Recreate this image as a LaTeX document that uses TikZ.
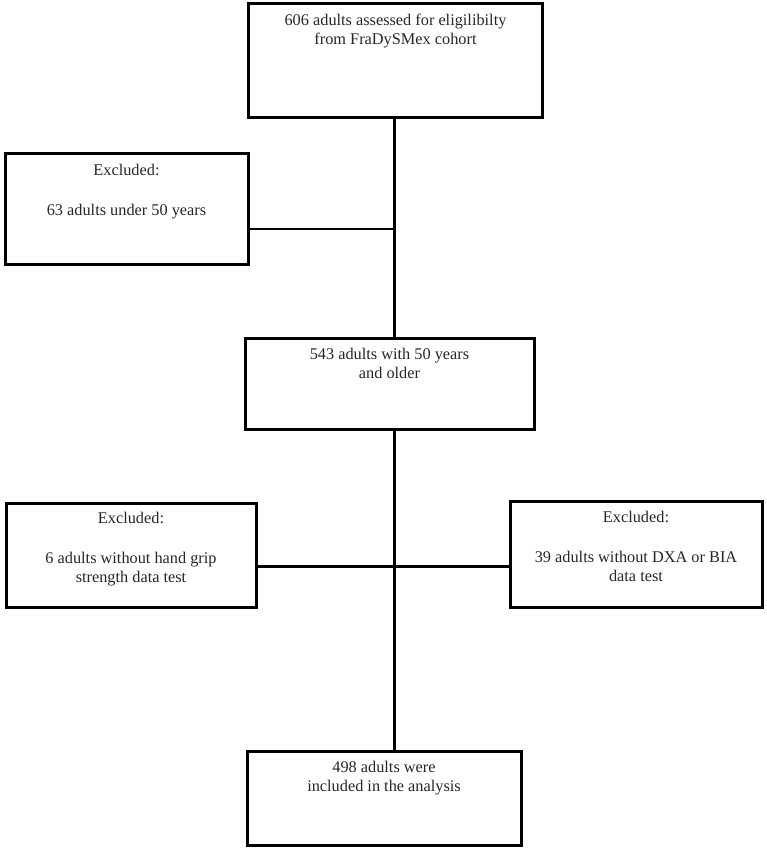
\documentclass[tikz,border=0pt]{standalone}
\usepackage{fontspec}
\setmainfont{Liberation Serif}
\usetikzlibrary{positioning}
\begin{document}
\begin{tikzpicture}[x=1pt,y=-1pt,
  box/.style={draw,line width=3pt,inner sep=0pt},
  txt/.style={align=center,inner sep=0pt,text=black!85,font=\fontsize{16.3}{19}\selectfont}]
\useasboundingbox(0,0)rectangle(767,850);
\foreach \kname/\kx/\ky/\kw/\kh in {assessed/395.5/60.5/294/114,under/126.5/209/243/110,older/389.5/383.5/289/91,nogrip/131/555/250/104,nodxa/636/554/252/106,included/384/798/274/94}{
  \node[box,minimum width=\kw pt,minimum height=\kh pt](\kname)at(\kx,\ky){};}
\coordinate(spine)at(394.5,0);
\node[txt,below=12pt of assessed.north](assessed-t){606 adults assessed for eligilibilty\\from FraDySMex cohort};
\node[txt,below=11pt of under.north](under-t){Excluded:\\[21pt]63 adults under 50 years};
\node[txt,below=11pt of older.north](older-t){543 adults with 50 years\\and older};
\node[txt,below=10pt of nogrip.north](nogrip-t){Excluded:\\[21pt]6 adults without hand grip\\strength data test};
\node[txt,below=11pt of nodxa.north](nodxa-t){Excluded:\\[21pt]39 adults without DXA or BIA\\data test};
\node[txt,below=11pt of included.north](included-t){498 adults were\\included in the analysis};
\draw[line width=3pt](assessed.south -| spine)--(older.north -| spine);
\draw[line width=3pt](older.south -| spine)--(included.north -| spine);
\coordinate(j1)at([yshift=-20pt]under.east);
\draw[line width=2pt](j1)--(j1 -| spine);
\coordinate(j2)at([yshift=-11pt]nogrip.east);
\draw[line width=3pt](j2)--(j2 -| nodxa.west);
\end{tikzpicture}
\end{document}
